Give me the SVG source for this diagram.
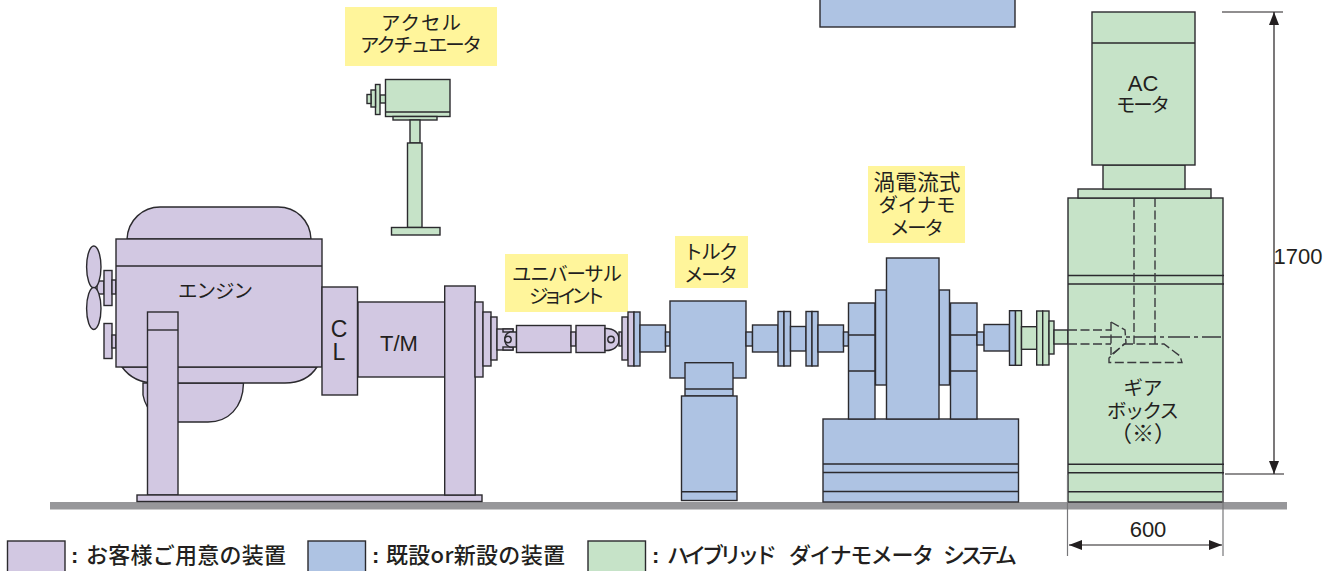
<svg xmlns="http://www.w3.org/2000/svg" width="1333" height="571" viewBox="0 0 1333 571">
<style>
.p{fill:#d2c8e2}.b{fill:#aec3e3}.g{fill:#c6e3c8}
.p,.b,.g,.l,.d,.c{stroke:#2b2a2e;stroke-width:1.4}
.l{fill:none}
.d{fill:none;stroke-dasharray:9 3.500;stroke:#3a3a3e}
.c{fill:none;stroke-dasharray:22 4 4 4;stroke:#3a3a3e}
.y{fill:#fff59b}
.t{font-family:"Noto Sans CJK JP","Liberation Sans",sans-serif;font-size:19.500px;fill:#231f20;text-anchor:middle}
.a{font-family:"Liberation Sans",Arial,sans-serif;font-size:22px;fill:#231f20;text-anchor:middle}
.k{font-family:"Noto Sans CJK JP","Liberation Sans",sans-serif;font-size:22px;font-weight:500;fill:#231f20}
.o{font-family:"Liberation Sans",Arial,sans-serif;font-size:22px;font-weight:700;fill:#231f20}
.dim{stroke:#231f20;stroke-width:1.200;fill:none}
.ext{stroke:#77777a;stroke-width:1.200;fill:none}
</style>
<defs>
<marker id="arr" viewBox="0 0 13 10" refX="13" refY="5" markerWidth="13" markerHeight="10" markerUnits="userSpaceOnUse" orient="auto-start-reverse"><path d="M0 0L13 5L0 10Z" fill="#231f20"/></marker>
</defs>
<rect id="ground" x="50" y="502" width="1237" height="7.500" fill="#97979a"/>
<rect id="upper-block" class="b" x="820" y="-2" width="195" height="29"/>

<g id="actuator-label"><rect class="y" x="345" y="7" width="152" height="59"/>
<text class="t" x="421" y="30" textLength="80">アクセル</text><text class="t" x="421" y="52" textLength="122">アクチュエータ</text></g>
<g id="actuator">
<rect class="g" x="380" y="95" width="6" height="8"/>
<rect class="g" x="375.500" y="84.500" width="4.500" height="30"/>
<rect class="g" x="371" y="90" width="4.500" height="17"/>
<rect class="g" x="367" y="94.500" width="4" height="9"/>
<rect class="g" x="385.500" y="79.500" width="64.500" height="37"/><path class="l" d="M385.500 112H450"/>
<rect class="g" x="393" y="116.500" width="44" height="3.500"/>
<rect class="g" x="410" y="120" width="10" height="23"/>
<rect class="g" x="407.500" y="143" width="14.500" height="84.500"/>
<rect class="g" x="391.500" y="227.500" width="48.500" height="7.500"/>
</g>

<g id="engine">
<path class="p" d="M143 383V395C146 412 160 422 178 422H208C228 422 243 408 243.500 383Z"/>
<path class="p" d="M127 239C128 220 143 207 160 207H278C296 207 310 220 311 239Z"/>
<path class="p" d="M122 367C130 378 140 383 155 383H285C300 383 310 378 317 367Z"/>
<rect class="p" x="97" y="281" width="7" height="13"/>
<ellipse class="p" cx="93.800" cy="267" rx="7.200" ry="21"/>
<ellipse class="p" cx="93.800" cy="308.500" rx="7.200" ry="21"/>
<rect class="p" x="104" y="270.500" width="8" height="35"/>
<rect class="p" x="112" y="280" width="4" height="14"/>
<rect class="p" x="104" y="323.500" width="8" height="35"/>
<rect class="p" x="112" y="335" width="4" height="13"/>
<rect class="p" x="116" y="239" width="206" height="128"/><path class="l" d="M116 266H322"/>
<text class="t" x="215.500" y="298" textLength="75">エンジン</text>
<rect class="p" x="147.500" y="312" width="30.500" height="183"/><path class="l" d="M147.500 330H178"/>
</g>
<g id="engine-base"><rect class="p" x="137" y="495" width="345" height="6.500"/></g>
<g id="clutch"><rect class="p" x="322" y="287" width="35.500" height="108"/><text class="a" x="339" y="337" style="font-size:23px">C</text><text class="a" x="339" y="360" style="font-size:23px">L</text></g>
<g id="transmission">
<rect class="p" x="358" y="302" width="87" height="75"/><text class="a" x="399" y="351">T/M</text>
<rect class="p" x="444.700" y="286" width="30.500" height="209"/>
<rect class="p" x="475" y="302" width="8" height="75"/>
<rect class="p" x="483" y="312" width="8" height="54"/>
<rect class="p" x="491" y="317" width="6" height="43"/>
</g>

<g id="universal-label"><rect class="y" x="505" y="254" width="123" height="58"/>
<text class="t" x="567" y="281" textLength="110">ユニバーサル</text><text class="t" x="567" y="303" textLength="76">ジョイント</text></g>
<g id="universal-joint">
<rect class="p" x="497" y="329" width="16" height="21"/>
<rect class="p" x="503" y="329" width="10" height="3"/><rect class="p" x="503" y="347" width="10" height="3"/>
<path class="p" d="M516.500 332H510A8 8 0 0 0 510 347H516.500Z"/><circle class="p" cx="508" cy="339.500" r="3.200"/>
<rect class="p" x="516.500" y="325.500" width="54.500" height="27"/>
<rect class="p" x="571" y="332" width="5" height="14"/>
<rect class="p" x="576" y="325.500" width="29" height="27"/>
<path class="p" d="M605 328.500C614 328 619 333 619 339.500C619 346 614 351 605 350.500Z"/><circle class="p" cx="611" cy="339.500" r="3.200"/>
<rect class="p" x="619" y="332" width="3" height="14"/>
<rect class="p" x="622" y="317" width="6" height="43"/>
<rect class="p" x="628" y="312" width="6" height="54"/>
<rect class="b" x="634" y="312" width="6" height="54"/>
</g>

<g id="torque-label"><rect class="y" x="675" y="236" width="73" height="52"/>
<text class="t" x="711" y="259" textLength="55">トルク</text><text class="t" x="711" y="282" textLength="54">メータ</text></g>
<g id="torque-meter">
<rect class="b" x="640" y="325" width="25.500" height="27"/>
<rect class="b" x="665.500" y="332" width="4.500" height="14"/>
<rect class="b" x="670" y="301" width="76" height="77"/>
<rect class="b" x="685" y="362.700" width="48" height="33.300"/><path class="l" d="M685 389H733"/>
<rect class="b" x="681.500" y="396" width="55.500" height="104.500"/><path class="l" d="M681.500 491.700H737"/>
<rect class="b" x="746" y="332" width="6.500" height="14"/>
<rect class="b" x="752.500" y="325" width="25.500" height="27"/>
<rect class="b" x="778" y="311.500" width="6" height="54.500"/><rect class="b" x="784" y="311.500" width="6.500" height="54.500"/>
<rect class="b" x="790.500" y="326.500" width="15.500" height="24.500"/>
<rect class="b" x="806" y="311.500" width="6" height="54.500"/><rect class="b" x="812" y="311.500" width="6" height="54.500"/>
<rect class="b" x="818" y="325" width="25.500" height="27"/>
<rect class="b" x="843.500" y="332" width="5" height="14"/>
</g>

<g id="dyno-label"><rect class="y" x="868" y="166" width="97" height="77"/>
<text class="t" x="917" y="190" style="font-size:21.500px" textLength="87">渦電流式</text><text class="t" x="917" y="212" textLength="77">ダイナモ</text><text class="t" x="917" y="235" textLength="54">メータ</text></g>
<g id="dynamometer">
<rect class="b" x="823" y="419" width="195.500" height="83"/><path class="l" d="M823 464H1018.500M823 472.500H1018.500M823 491.500H1018.500"/>
<rect class="b" x="848.500" y="303" width="26.500" height="116"/><path class="l" d="M848.500 335H875M848.500 371H875"/>
<rect class="b" x="875.500" y="290" width="11" height="95"/>
<rect class="b" x="939" y="290" width="10.500" height="95"/>
<rect class="b" x="886.500" y="258" width="52.500" height="161"/>
<rect class="b" x="950.500" y="303" width="26.500" height="116"/><path class="l" d="M950.500 335H977M950.500 371H977"/>
<rect class="b" x="977" y="332" width="7" height="13"/>
<rect class="b" x="984" y="324.500" width="25.500" height="26.500"/>
<rect class="b" x="1009.500" y="310.700" width="6" height="54.600"/>
</g>

<g id="hybrid-coupling">
<rect class="g" x="1015.500" y="310.700" width="6" height="54.600"/>
<rect class="g" x="1021.500" y="326.700" width="15.200" height="22.600"/>
<rect class="g" x="1036.700" y="311" width="6" height="54"/><rect class="g" x="1042.700" y="311" width="6.300" height="54"/>
<rect class="g" x="1049" y="321" width="5" height="33"/>
<rect class="g" x="1054" y="330" width="14" height="14"/>
</g>

<g id="gearbox">
<rect class="g" x="1068" y="198" width="155" height="304"/>
<path class="l" d="M1068 275.500H1224M1068 284H1224M1068 464.300H1224M1068 472.700H1224M1068 491.700H1224"/>
<path class="d" d="M1134 198V344M1155 198V344M1068 330H1111M1068 344H1111M1111 322V355"/>
<path class="d" d="M1111 322L1125 330L1126 343L1111 355"/>
<path class="d" d="M1124 344H1164L1180 356L1182 362.500H1109V358Z"/>
<path class="c" d="M1100 337H1221"/>
<text class="t" x="1143" y="395" textLength="39">ギア</text><text class="t" x="1143" y="418" textLength="72">ボックス</text><text class="t" x="1143" y="441" style="font-size:22px">（※）</text>
</g>
<g id="ac-motor">
<rect class="g" x="1078" y="189" width="133" height="9"/>
<rect class="g" x="1103" y="165" width="82" height="24"/>
<rect class="g" x="1092" y="12" width="103" height="153"/><path class="l" d="M1092 43H1195"/>
<text class="a" x="1143" y="91">AC</text><text class="t" x="1143" y="112" textLength="54">モータ</text>
</g>

<g id="connectors">
<path class="dim" d="M1222 12H1283M1225 474H1284"/>
<path class="dim" d="M1274 12V474" marker-start="url(#arr)" marker-end="url(#arr)"/>
<path class="ext" d="M1067.500 475V556M1223 475V556"/>
<path class="dim" d="M1069 545H1222" marker-start="url(#arr)" marker-end="url(#arr)"/>
</g>
<text class="a" x="1298" y="264">1700</text>
<text class="a" x="1148" y="537">600</text>

<g id="legend">
<rect class="p" x="7.500" y="541" width="57.500" height="32"/><text class="o" x="71" y="563">:</text><text class="k" x="86" y="563" textLength="200">お客様ご用意の装置</text>
<rect class="b" x="308" y="541" width="57.500" height="32"/><text class="o" x="372" y="563">:</text><text class="k" x="386" y="563" textLength="179">既設or新設の装置</text>
<rect class="g" x="588" y="541" width="57.500" height="32"/><text class="o" x="652" y="563">:</text><text class="k" x="667" y="563" textLength="110">ハイブリッド</text><text class="k" x="789" y="563" textLength="145">ダイナモメータ</text><text class="k" x="943" y="563" textLength="74">システム</text>
</g>
</svg>
